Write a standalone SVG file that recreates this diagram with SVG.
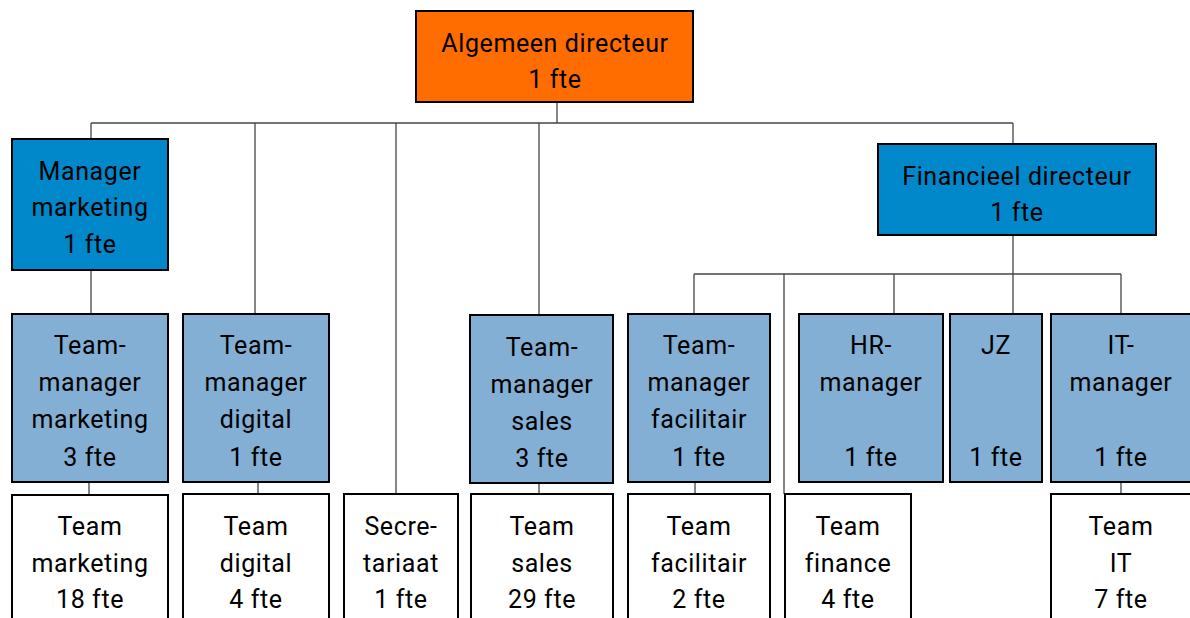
<svg xmlns="http://www.w3.org/2000/svg" width="1190" height="618" viewBox="0 0 1190 618">
<style>
.box{stroke:#000;stroke-width:2}
.top{fill:#FF6D00}
.mgr{fill:#0088CB}
.tm{fill:#82AFD3}
.team{fill:#fff}
.conn line{stroke:#444;stroke-width:1.3}
text{font-family:Roboto,"Liberation Sans",sans-serif;font-size:25px;letter-spacing:0.6px;fill:#000;text-anchor:middle}
</style>
<rect width="1190" height="618" fill="#fff"/>
<g id="connectors" class="conn">
<line x1="557" y1="102" x2="557" y2="123"/>
<line x1="91" y1="123" x2="1013" y2="123"/>
<line x1="91" y1="123" x2="91" y2="139"/>
<line x1="255" y1="123" x2="255" y2="314"/>
<line x1="396" y1="123" x2="396" y2="494"/>
<line x1="539" y1="123" x2="539" y2="315"/>
<line x1="1013" y1="123" x2="1013" y2="144"/>
<line x1="91" y1="270" x2="91" y2="314"/>
<line x1="1013" y1="235" x2="1013" y2="314"/>
<line x1="694" y1="274" x2="1121" y2="274"/>
<line x1="694" y1="274" x2="694" y2="314"/>
<line x1="784" y1="274" x2="784" y2="494"/>
<line x1="894" y1="274" x2="894" y2="314"/>
<line x1="1121" y1="274" x2="1121" y2="314"/>
<line x1="89" y1="482" x2="89" y2="495"/>
<line x1="258" y1="482" x2="258" y2="494"/>
<line x1="539" y1="483" x2="539" y2="494"/>
<line x1="695" y1="482" x2="695" y2="494"/>
<line x1="1121" y1="482" x2="1121" y2="494"/>
</g>
<g id="algemeen-directeur">
<rect class="box top" x="416" y="11" width="277" height="91"/>
<text x="555" y="52">Algemeen directeur</text>
<text x="555" y="88">1 fte</text>
</g>
<g id="manager-marketing">
<rect class="box mgr" x="12" y="139" width="156" height="131"/>
<text x="90" y="180">Manager</text>
<text x="90" y="216">marketing</text>
<text x="90" y="253">1 fte</text>
</g>
<g id="financieel-directeur">
<rect class="box mgr" x="878" y="144" width="278" height="91"/>
<text x="1017" y="185">Financieel directeur</text>
<text x="1017" y="221">1 fte</text>
</g>
<g id="tm-marketing">
<rect class="box tm" x="12" y="314" width="156" height="168"/>
<text x="90" y="354">Team-</text>
<text x="90" y="391">manager</text>
<text x="90" y="428">marketing</text>
<text x="90" y="466">3 fte</text>
</g>
<g id="tm-digital">
<rect class="box tm" x="183" y="314" width="146" height="168"/>
<text x="256" y="354">Team-</text>
<text x="256" y="391">manager</text>
<text x="256" y="428">digital</text>
<text x="256" y="466">1 fte</text>
</g>
<g id="tm-sales">
<rect class="box tm" x="470" y="315" width="143" height="168"/>
<text x="542" y="356">Team-</text>
<text x="542" y="393">manager</text>
<text x="542" y="430">sales</text>
<text x="542" y="467">3 fte</text>
</g>
<g id="tm-facilitair">
<rect class="box tm" x="628" y="314" width="142" height="168"/>
<text x="699" y="354">Team-</text>
<text x="699" y="391">manager</text>
<text x="699" y="428">facilitair</text>
<text x="699" y="466">1 fte</text>
</g>
<g id="hr-manager">
<rect class="box tm" x="799" y="314" width="144" height="168"/>
<text x="871" y="354">HR-</text>
<text x="871" y="391">manager</text>
<text x="871" y="466">1 fte</text>
</g>
<g id="jz">
<rect class="box tm" x="950" y="314" width="92" height="168"/>
<text x="996" y="354">JZ</text>
<text x="996" y="466">1 fte</text>
</g>
<g id="it-manager">
<rect class="box tm" x="1051" y="314" width="150" height="168"/>
<text x="1121" y="354">IT-</text>
<text x="1121" y="391">manager</text>
<text x="1121" y="466">1 fte</text>
</g>
<g id="team-marketing">
<rect class="box team" x="12" y="495" width="156" height="140"/>
<text x="90" y="535">Team</text>
<text x="90" y="572">marketing</text>
<text x="90" y="608">18 fte</text>
</g>
<g id="team-digital">
<rect class="box team" x="183" y="494" width="146" height="140"/>
<text x="256" y="535">Team</text>
<text x="256" y="572">digital</text>
<text x="256" y="608">4 fte</text>
</g>
<g id="secretariaat">
<rect class="box team" x="344" y="494" width="114" height="140"/>
<text x="401" y="535">Secre-</text>
<text x="401" y="572">tariaat</text>
<text x="401" y="608">1 fte</text>
</g>
<g id="team-sales">
<rect class="box team" x="471" y="494" width="142" height="140"/>
<text x="542" y="535">Team</text>
<text x="542" y="572">sales</text>
<text x="542" y="608">29 fte</text>
</g>
<g id="team-facilitair">
<rect class="box team" x="628" y="494" width="142" height="140"/>
<text x="699" y="535">Team</text>
<text x="699" y="572">facilitair</text>
<text x="699" y="608">2 fte</text>
</g>
<g id="team-finance">
<rect class="box team" x="785" y="494" width="126" height="140"/>
<text x="848" y="535">Team</text>
<text x="848" y="572">finance</text>
<text x="848" y="608">4 fte</text>
</g>
<g id="team-it">
<rect class="box team" x="1051" y="494" width="150" height="140"/>
<text x="1121" y="535">Team</text>
<text x="1121" y="572">IT</text>
<text x="1121" y="608">7 fte</text>
</g>
</svg>
